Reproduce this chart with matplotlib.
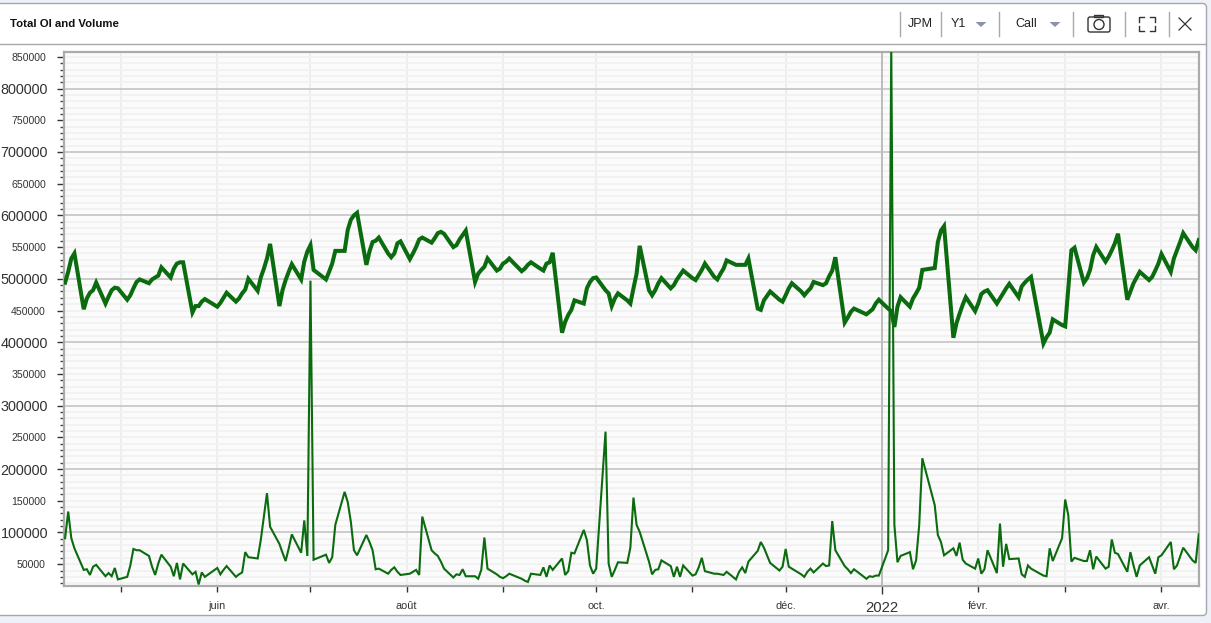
import pandas as pd
import matplotlib
matplotlib.use("Agg")
import matplotlib.pyplot as plt
from matplotlib.patches import FancyBboxPatch, Polygon, Rectangle, Circle

plt.rcParams["font.family"] = ["Liberation Sans", "DejaVu Sans"]

# trading days, the market holidays are left out
holidays = ["2021-05-31", "2021-07-05", "2021-09-06", "2021-11-25", "2021-12-24",
            "2022-01-17", "2022-02-21"]
dates = pd.bdate_range("2021-04-13", "2022-04-13").difference(pd.to_datetime(holidays))

# total open interest, in thousands
open_interest = [
    494, 511, 532, 540,
    452, 469, 478, 482, 494,
    461, 472, 482, 486, 485,
    467, 474, 485, 495, 499,
    493, 499, 502, 505, 518,
    502, 516, 524, 526, 526,
    447, 457, 457, 464, 468,
    456, 462, 470, 478,
    464, 469, 477, 483, 500,
    481, 502, 516, 532, 555,
    457, 482, 498, 511, 523,
    499, 527, 543, 553, 514,
    499, 511, 524, 544,
    544, 577, 593, 600, 604,
    522, 543, 558, 560, 565,
    540, 534, 540, 556, 559,
    531, 540, 550, 562, 565,
    557, 564, 572, 574, 571,
    550, 553, 562, 569, 576,
    495, 508, 514, 519, 532,
    513, 516, 524, 527, 532,
    512, 516, 522, 526,
    516, 513, 524, 526, 541,
    415, 432, 443, 451, 466,
    461, 485, 495, 501, 502,
    482, 477, 457, 469, 477,
    466, 461, 485, 508, 552,
    482, 474, 482, 493, 501,
    485, 490, 499, 506, 513,
    501, 498, 506, 514, 524,
    503, 499, 508, 516, 529,
    522, 522, 522, 522, 532,
    453, 451, 466, 480,
    467, 464, 474, 485, 493,
    480, 474, 480, 485, 495,
    490, 493, 504, 513, 534,
    431, 439, 448, 453,
    444, 448, 452, 461, 467,
    453, 449, 424, 456, 471,
    456, 469, 477, 486, 514,
    517, 558, 576, 583,
    407, 430, 445, 459, 471,
    449, 461, 476, 480, 482,
    461, 469, 477, 485, 492,
    471, 488, 494, 499, 503,
    398, 408, 415, 436,
    427, 425, 485, 545, 549,
    494, 501, 514, 537, 550,
    527, 535, 545, 556, 571,
    467, 480, 493, 502, 511,
    498, 503, 513, 524, 539,
    511, 532, 545, 558, 572,
    550, 545, 561,
]

# volume, in thousands
volume = [
    91, 133, 91, 75,
    41, 42, 33, 46, 49,
    31, 36, 31, 44, 26,
    30, 48, 74, 72, 72,
    63, 46, 33, 51, 65,
    46, 31, 52, 26, 51,
    34, 38, 18, 37, 30,
    44, 34, 41, 47,
    30, 34, 37, 69, 61,
    59, 88, 125, 162, 109,
    82, 68, 55, 75, 97,
    68, 119, 63, 497, 57,
    65, 52, 61, 112,
    164, 148, 117, 72, 64,
    96, 85, 72, 42, 43,
    35, 41, 45, 38, 33,
    35, 38, 41, 33, 125,
    72, 67, 63, 54, 43,
    29, 34, 33, 42, 31,
    31, 27, 41, 92, 43,
    34, 30, 28, 31, 35,
    27, 24, 22, 35,
    33, 45, 30, 48, 41,
    59, 33, 39, 68, 67,
    104, 88, 48, 35, 43,
    259, 51, 30, 41, 53,
    52, 76, 155, 112, 101,
    54, 34, 41, 42, 56,
    47, 30, 46, 30, 48,
    32, 34, 45, 60, 39,
    35, 35, 34, 33, 38,
    26, 38, 45, 36, 54,
    71, 85, 76, 52,
    40, 46, 74, 46, 43,
    34, 30, 38, 43, 37,
    51, 47, 48, 118, 72,
    47, 42, 36, 42,
    27, 31, 30, 32, 32,
    72, 870, 112, 53, 63,
    69, 42, 56, 112, 217,
    143, 96, 85, 64,
    75, 63, 84, 57, 51,
    43, 59, 35, 42, 72,
    36, 114, 46, 82, 58,
    59, 34, 30, 48, 43,
    32, 31, 75, 55,
    91, 152, 127, 54, 60,
    55, 55, 72, 42, 62,
    43, 46, 89, 68, 66,
    38, 69, 48, 30, 48,
    61, 48, 35, 61, 64,
    85, 42, 48, 62, 76,
    56, 52, 97,
]

month_ticks = pd.date_range("2021-05-01", "2022-04-01", freq="MS")
month_labels = ["", "juin", "", "août", "", "oct.", "", "déc.", "2022", "févr.", "", "avr."]
y_ticks = list(range(50000, 850001, 50000))

W, H = 1211, 623
fig = plt.figure(figsize=(W / 100, H / 100), dpi=100, facecolor="#eff1f8")

# window frame and toolbar, in pixels
bg = fig.add_axes([0, 0, 1, 1])
bg.set_xlim(0, W)
bg.set_ylim(H, 0)
bg.axis("off")
bg.add_patch(FancyBboxPatch((-20, 3.5), 1226.5, 612, boxstyle="round,pad=0,rounding_size=4",
                            fc="white", ec="#a4a7b0", lw=1))
bg.plot([0, 1206], [44, 44], color="#a8a8a8", lw=1)
bg.text(10, 24, "Total OI and Volume", fontsize=8.2, fontweight="bold", color="#111111", va="center")
for sx in [900, 941, 999, 1073, 1125, 1169]:
    bg.plot([sx, sx], [12, 36], color="#a8a8a8", lw=1)
bg.text(920, 24, "JPM", fontsize=9, color="#222222", ha="center", va="center")
bg.text(958, 24, "Y1", fontsize=9, color="#222222", ha="center", va="center")
bg.text(1026, 24, "Call", fontsize=9, color="#222222", ha="center", va="center")
for cx in [981, 1055]:
    bg.add_patch(Polygon([(cx - 5.5, 22), (cx + 5.5, 22), (cx, 27)], fc="#8a93a8", ec="none"))
# camera
bg.add_patch(FancyBboxPatch((1088, 17), 22, 15, boxstyle="round,pad=0,rounding_size=2",
                            fc="none", ec="#333333", lw=1))
bg.add_patch(Rectangle((1094, 14.5), 9, 2.5, fc="none", ec="#333333", lw=1))
bg.add_patch(Circle((1099, 24.5), 5, fc="none", ec="#333333", lw=1))
# full screen corners
for x0, x1, y0, y1 in [(1139, 1144, 17, 22), (1155, 1150, 17, 22), (1139, 1144, 31, 26), (1155, 1150, 31, 26)]:
    bg.plot([x1, x0, x0], [y0, y0, y1], color="#333333", lw=1)
# close
bg.plot([1179, 1191], [18, 30], color="#333333", lw=0.9)
bg.plot([1179, 1191], [30, 18], color="#333333", lw=0.9)

# chart
left, right, top, bottom = 64, 1199, 52, 586
ax = fig.add_axes([left / W, 1 - bottom / H, (right - left) / W, (bottom - top) / H])
ax.set_facecolor("#fbfbfb")
ax.plot(dates, [v * 1000 for v in volume], color="#0b6b0f", lw=1.5, solid_joinstyle="miter", zorder=3)
ax.plot(dates, [v * 1000 for v in open_interest], color="#0b6b0f", lw=2.9, solid_joinstyle="miter", zorder=4)

ax.set_xlim(pd.Timestamp("2021-04-12 15:30"), pd.Timestamp("2022-04-13 02:00"))
ax.set_ylim(15600, 857600)

ax.set_yticks(y_ticks)
ax.set_yticks(range(20000, 857000, 10000), minor=True)
ax.set_xticks(month_ticks)
ax.set_xticklabels(month_labels)

ax.grid(True, which="minor", axis="y", color="#f1f1f1", lw=1.2)
ax.grid(True, which="major", axis="y", color="#f1f1f1", lw=1.2)
ax.grid(True, which="major", axis="x", color="#ececec", lw=1.2)
ax.set_axisbelow(True)
ax.axvline(month_ticks[8], color="#bcbcbc", lw=1.4, zorder=1.5)

ax.tick_params(axis="y", which="major", length=5, width=1, color="#333333", pad=6.5)
ax.tick_params(axis="y", which="minor", length=3, width=1, color="#444444")
ax.tick_params(axis="x", which="major", length=4, width=1, color="#333333", pad=6.5)

# every 100000 gets a darker line and a bigger label
for val, tick in zip(y_ticks, ax.yaxis.get_major_ticks()):
    tick.label1.set_color("#333333")
    if val % 100000 == 0:
        tick.gridline.set_color("#c4c4c4")
        tick.label1.set_fontsize(10.4)
    else:
        tick.label1.set_fontsize(7.6)
        tick.set_pad(8)

for tick, label in zip(ax.xaxis.get_major_ticks(), month_labels):
    tick.label1.set_color("#333333")
    if label == "2022":
        tick.label1.set_fontsize(10.6)
        tick.tick1line.set_markersize(5.5)
    else:
        tick.label1.set_fontsize(7.8)

for side in ax.spines.values():
    side.set_color("#ababab")
    side.set_linewidth(1.6)

print(len(dates), len(open_interest), len(volume))
fig.savefig("out.png", dpi=100, facecolor=fig.get_facecolor())
